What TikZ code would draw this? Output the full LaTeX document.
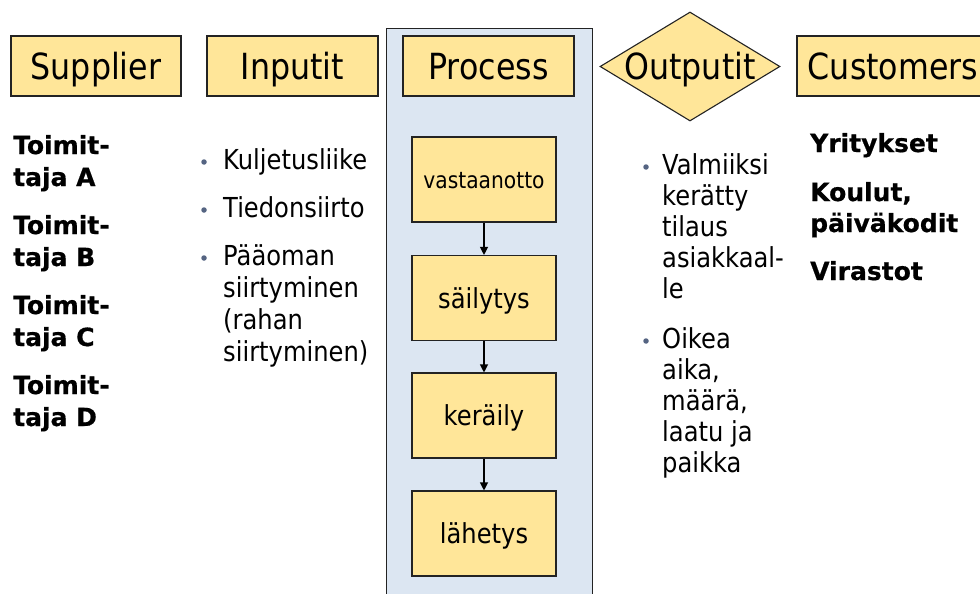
\documentclass[tikz,border=0pt]{standalone}
\usepackage{fontspec}
\setmainfont{DejaVu Sans}[FakeStretch=0.88]
\newfontfamily\boldfam{DejaVu Sans}[BoldFeatures={FakeBold=0.6}]
\usetikzlibrary{shapes.geometric,arrows.meta}
\definecolor{yel}{RGB}{255,230,153}
\definecolor{blu}{RGB}{220,230,242}
\definecolor{bord}{RGB}{35,35,35}
\definecolor{bulc}{RGB}{85,100,130}
\begin{document}
\begin{tikzpicture}[x=1pt,y=-1pt,
  hd/.style={draw=bord, line width=1.1pt, fill=yel, inner sep=0pt,
    minimum height=60pt, text height=26pt, text depth=0pt,
    font=\fontsize{36}{40}\selectfont},
  pbox/.style={draw=bord, line width=1.1pt, fill=yel, inner sep=0pt,
    minimum width=144pt, minimum height=85pt, text height=20pt, text depth=0pt,
    font=\fontsize{27.5}{32}\selectfont},
  arr/.style={draw=black, line width=1.1pt, -{Triangle[width=8pt,length=8pt]}},
  txt/.style={anchor=base west, inner sep=0pt, font=\fontsize{27.5}{32}\selectfont},
  bld/.style={anchor=base west, inner sep=0pt, font=\boldfam\bfseries\fontsize{25}{30}\selectfont},
  dot/.style={circle, fill=bulc, inner sep=0pt, minimum size=5.5pt}]
\useasboundingbox (0,0) rectangle (980,594);
\clip (0,0) rectangle (980,594);

% process column
\node[draw=bord, line width=1.3pt, fill=blu, minimum width=206pt, minimum height=600pt,
  inner sep=0pt, anchor=north west] (col) at (386,28) {};

% headings
\node[hd, minimum width=170pt] (sup) at (96,66) {Supplier};
\node[hd, minimum width=171pt] (inp) at (292.5,66) {Inputit};
\node[hd, minimum width=171pt] (pro) at (488.5,66) {Process};
\node[hd, minimum width=192pt] (cus) at (893,66) {Customers};
\node[diamond, draw=bord, line width=1.1pt, fill=yel, inner sep=0pt,
  minimum width=180pt, minimum height=109pt] (outd) at (690,66.5) {};
\node[inner sep=0pt, text height=26pt, text depth=0pt,
  font=\fontsize{36}{40}\selectfont] (outt) at (690,66) {Outputit};

% process steps
\node[pbox, font=\fontsize{23}{28}\selectfont, text height=17pt] (p1) at (484,179.5) {vastaanotto};
\node[pbox] (p2) at (484,298) {säilytys};
\node[pbox] (p3) at (484,415.5) {keräily};
\node[pbox] (p4) at (484,533.5) {lähetys};
\draw[arr] (p1) -- (p2);
\draw[arr] (p2) -- (p3);
\draw[arr] (p3) -- (p4);

% suppliers
\node[bld] (s1) at (13,154) {Toimit-};
\node[bld] (s2) at (13,186) {taja A};
\node[bld] (s3) at (13,234) {Toimit-};
\node[bld] (s4) at (13,266) {taja B};
\node[bld] (s5) at (13,314) {Toimit-};
\node[bld] (s6) at (13,346) {taja C};
\node[bld] (s7) at (13,394) {Toimit-};
\node[bld] (s8) at (13,426) {taja D};

% inputs
\node[dot] (ib1) at (204,162) {};
\node[txt] (i1) at (223,169) {Kuljetusliike};
\node[dot] (ib2) at (204,210) {};
\node[txt] (i2) at (223,217) {Tiedonsiirto};
\node[dot] (ib3) at (204,258) {};
\node[txt] (i3) at (223,265) {Pääoman};
\node[txt] (i4) at (223,297) {siirtyminen};
\node[txt] (i5) at (223,329) {(rahan};
\node[txt] (i6) at (223,361) {siirtyminen)};

% outputs
\node[dot] (ob1) at (646,167) {};
\node[txt] (o1) at (662,174) {Valmiiksi};
\node[txt] (o2) at (662,205) {kerätty};
\node[txt] (o3) at (662,236) {tilaus};
\node[txt] (o4) at (662,267) {asiakkaal-};
\node[txt] (o5) at (662,298) {le};
\node[dot] (ob2) at (646,341) {};
\node[txt] (o6) at (662,348) {Oikea};
\node[txt] (o7) at (662,379) {aika,};
\node[txt] (o8) at (662,410) {määrä,};
\node[txt] (o9) at (662,441) {laatu ja};
\node[txt] (o10) at (662,472) {paikka};

% customers
\node[bld] (c1) at (810,152) {Yritykset};
\node[bld] (c2) at (810,201) {Koulut,};
\node[bld] (c3) at (810,232) {päiväkodit};
\node[bld] (c4) at (810,280) {Virastot};
\end{tikzpicture}
\end{document}
